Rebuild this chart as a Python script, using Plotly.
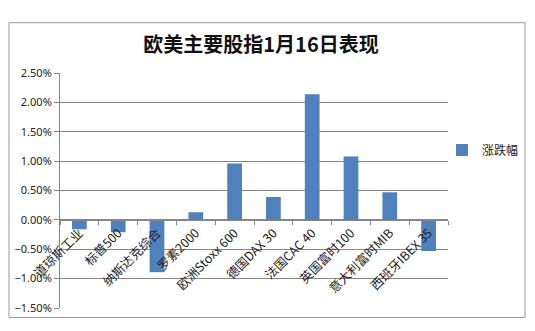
import plotly.graph_objects as go

categories = ["道琼斯工业", "标普500", "纳斯达克综合", "罗素2000", "欧洲Stoxx 600",
              "德国DAX 30", "法国CAC 40", "英国富时100", "意大利富时MIB", "西班牙IBEX 35"]
changes = [-0.0016, -0.0021, -0.0089, 0.0013, 0.0096, 0.0039, 0.0214, 0.0108, 0.0047, -0.0053]
series_name = "涨跌幅"
title_text = "欧美主要股指1月16日表现"
y_ticks = [-0.015, -0.01, -0.005, 0.0, 0.005, 0.01, 0.015, 0.02, 0.025]

W, H = 535, 331
ml, mr, mt, mb = 60, 87, 72.5, 22.5
pw, ph = W - ml - mr, H - mt - mb
ymin, ymax = -0.015, 0.025

fig = go.Figure()
fig.add_trace(go.Bar(x=categories, y=changes, name=series_name,
                     marker=dict(color="#4F81BD", line=dict(width=0)),
                     showlegend=True))

zero_pos = (0 - ymin) / (ymax - ymin)

fig.update_layout(
    width=W, height=H,
    margin=dict(l=ml, r=mr, t=mt, b=mb, autoexpand=False),
    paper_bgcolor="white", plot_bgcolor="white",
    bargap=0.62,
    font=dict(family="Noto Sans CJK SC, Noto Sans, sans-serif", color="#222"),
    title=dict(text="<b>" + title_text + "</b>", x=261 / W, xanchor="center", y=1 - 45 / H, yanchor="middle",
               font=dict(size=20, color="#111", family="Noto Sans CJK SC")),
    showlegend=True,
    legend=dict(xref="container", yref="container", x=442 / W, y=1 - 150 / H,
                xanchor="left", yanchor="middle",
                font=dict(size=12, color="#222"), bgcolor="rgba(0,0,0,0)",
                itemwidth=30, borderwidth=0),
    xaxis=dict(type="category", anchor="free", position=zero_pos,
               showline=True, linecolor="#868686", linewidth=1,
               ticks="outside", ticklen=4, tickcolor="#868686", tickson="boundaries",
               tickangle=-45, tickfont=dict(size=12.5, color="#222", family="Noto Sans CJK SC"),
               showgrid=False, zeroline=False),
    yaxis=dict(range=[ymin, ymax], tickvals=y_ticks, tickformat=".2%",
               showline=True, linecolor="#868686", linewidth=1,
               ticks="outside", ticklen=5, tickcolor="#868686",
               showgrid=True, gridcolor="#868686", gridwidth=1,
               zeroline=False, tickfont=dict(size=11, color="#222", family="Noto Sans")),
    shapes=[dict(type="rect", xref="paper", yref="paper",
                 x0=(9 - ml) / pw, x1=(525 - ml) / pw,
                 y0=(mt + ph - 318) / ph, y1=(mt + ph - 22) / ph,
                 line=dict(color="#999999", width=1), fillcolor="rgba(0,0,0,0)", layer="below")],
)

fig.write_html("out.html")
